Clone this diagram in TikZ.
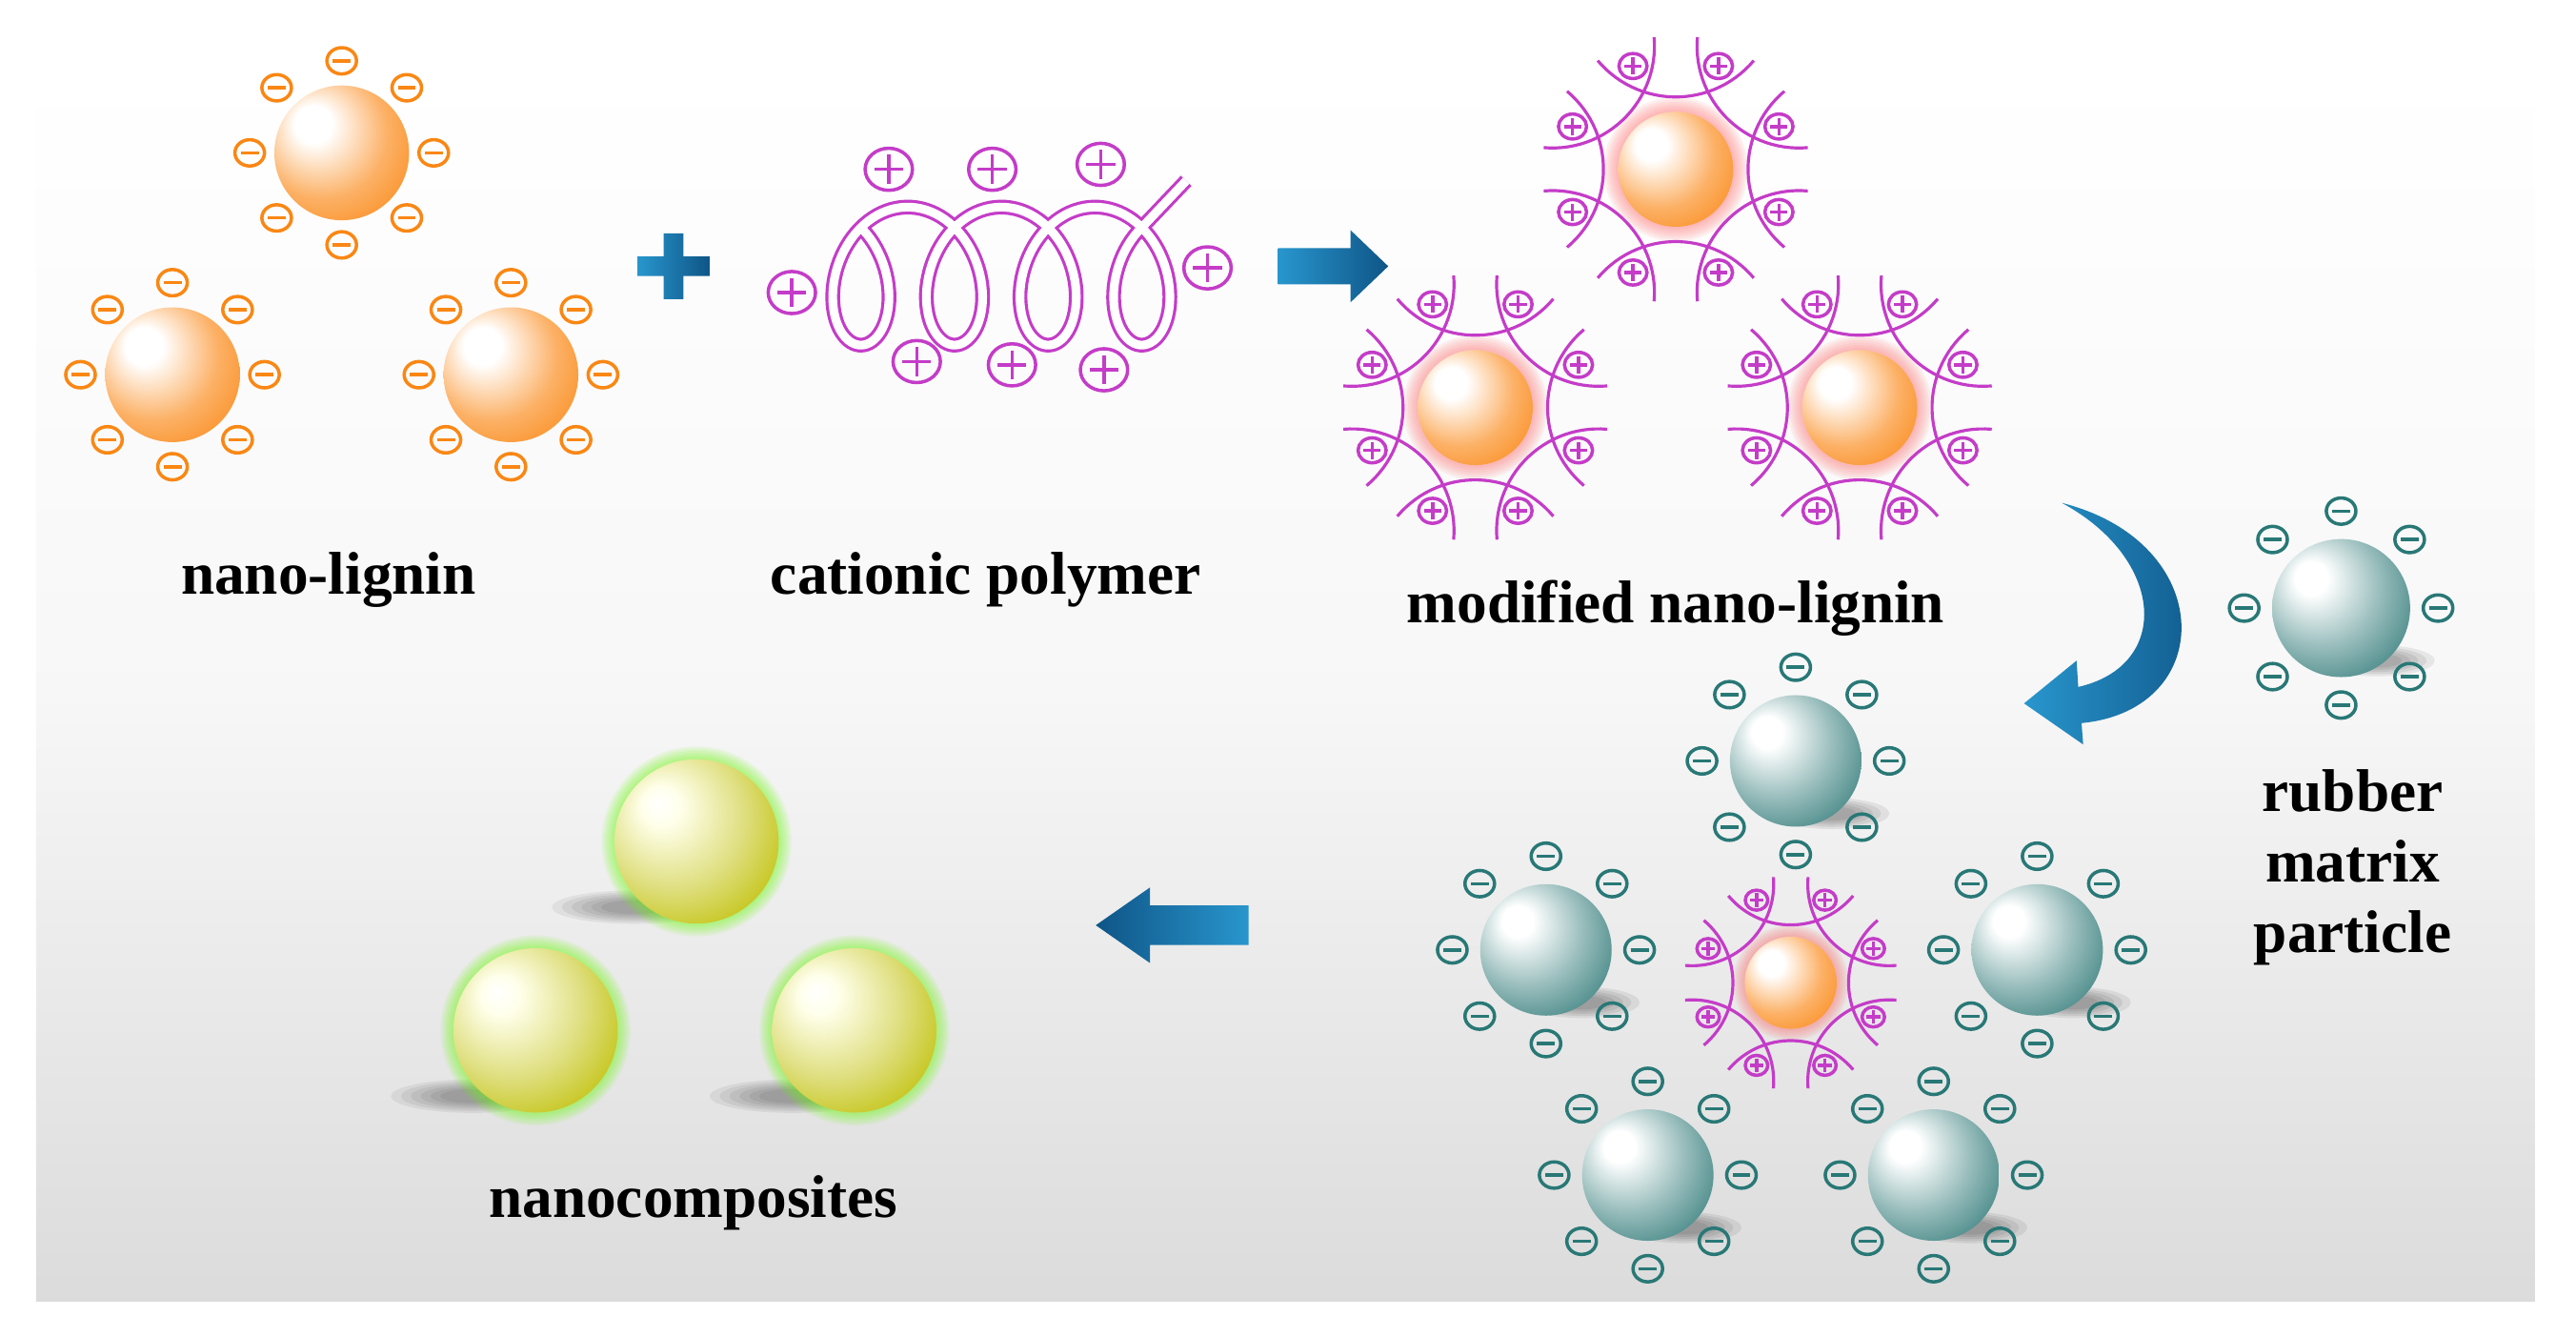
\documentclass[tikz,border=0pt]{standalone}
\usepackage{fontspec}
\setmainfont{Liberation Serif}
\begin{document}
\definecolor{oranA}{RGB}{250,135,20}
\definecolor{magA}{RGB}{196,60,200}
\definecolor{tealA}{RGB}{45,120,118}
\definecolor{tealM}{RGB}{40,120,118}
\definecolor{yelA}{RGB}{190,190,0}
\definecolor{blueA}{RGB}{40,150,205}
\definecolor{blueB}{RGB}{15,85,135}
\pgfdeclareradialshading{orsh}{\pgfpoint{-12bp}{12bp}}{color(0bp)=(white);color(7bp)=(white);color(24bp)=(oranA!65);color(40bp)=(oranA);color(60bp)=(oranA)}
\pgfdeclareradialshading{tesh}{\pgfpoint{-12bp}{12bp}}{color(0bp)=(white);color(6bp)=(white);color(22bp)=(tealA!50);color(36bp)=(tealA!90);color(60bp)=(tealA!80!black)}
\pgfdeclareradialshading{yesh}{\pgfpoint{-12bp}{12bp}}{color(0bp)=(white);color(6bp)=(white!92!yellow);color(22bp)=(yelA!50);color(36bp)=(yelA!95);color(60bp)=(yelA!90!black)}
\newcommand\mysign[2]{% color, with plus?
  \draw[#1,line width=1pt] (0,0) ellipse (9 and 8);
  \draw[#1,line width=1pt] (-5.5,0) -- (5.5,0);
  \ifx#2p\draw[#1,line width=1pt] (0,-5.5) -- (0,5.5);\fi}
\newcommand\nlball[2]{\begin{scope}[shift={(#1,#2)}]
  \shade[shading=orsh] (0,0) circle (41);
  \foreach \a in {0,45,...,315}{\begin{scope}[shift={(\a:56)}]\mysign{oranA}{m}\end{scope}}
\end{scope}}
\newcommand\teball[3]{\begin{scope}[shift={(#1,#2)}]
  \foreach \k in {1,...,5}{\fill[black,opacity=0.07] (22,32) ellipse ({10+5*\k} and {3+1.3*\k});}
  \shade[shading=tesh] (0,0) circle (#3);
  \foreach \a in {0,45,...,315}{\begin{scope}[shift={(\a:#3+17)}]\mysign{tealM}{m}\end{scope}}
\end{scope}}
\newcommand\yeball[2]{\begin{scope}[shift={(#1,#2)}]
  \foreach \k in {1,...,6}{\fill[black,opacity=0.06] (-38,40) ellipse ({14+6*\k} and {3+1.2*\k});}
  \foreach \k in {1,...,6}{\fill[green!60!yellow,opacity=0.09] (0,0) circle ({50+1.3*\k});}
  \shade[shading=yesh] (0,0) circle (50);
\end{scope}}
\newcommand\modnl[3]{\begin{scope}[shift={(#1,#2)},scale=#3]
  \foreach \k in {1,...,6}{\fill[red!40!pink,opacity=0.1] (0,0) circle ({35+1.5*\k});}
  \shade[shading=orsh] (0,0) circle (35);
  \foreach \a in {0,45,...,315}{\draw[magA,line width=0.9pt,rotate=\a] plot[domain=-50:50,samples=30,variable=\b] ({62*sin(\b)},{-106+62*cos(\b)});}
  \foreach \a in {22.5,67.5,...,337.5}{\begin{scope}[shift={(\a:68)},scale=0.95]\mysign{magA}{p}\end{scope}}
\end{scope}}
\begin{tikzpicture}[x=0.017245cm,y=-0.017245cm,
  lab/.style={font=\fontsize{18}{21}\selectfont\bfseries,align=center}]
\useasboundingbox (0,0) rectangle (1568,813);
\fill[white] (0,0) rectangle (1568,813);
\shade[top color=white,bottom color=black!14,middle color=white!97!black] (22,40) rectangle (1543,792);
% nano-lignin
\nlball{208}{93}
\nlball{105}{228}
\nlball{311}{228}
% blue plus
\shade[left color=blueA,right color=blueB] (404,142) -- (416,142) -- (416,156) -- (432,156) -- (432,168) -- (416,168) -- (416,182) -- (404,182) -- (404,168) -- (388,168) -- (388,156) -- (404,156) -- cycle;
% polymer
\draw[magA,line width=0.9pt,double=white,double distance=2.6pt]
  plot[domain=-2.3:21.2,samples=300,variable=\t] ({524+9.07*\t-30*sin(\t r)},{168+42*cos(\t r)}) -- (722,110);
\foreach \px/\py in {541/103,604/103,670/100,482/178,735/163,558/220,616/222,672/225}{
  \begin{scope}[shift={(\px,\py)},scale=1.6]\mysign{magA}{p}\end{scope}}
% right arrow
\shade[left color=blueA,right color=blueB] (778,151) -- (822,151) -- (822,140) -- (845,162) -- (822,184) -- (822,173) -- (778,173) -- cycle;
% modified nano-lignin
\modnl{1020}{103}{1}
\modnl{898}{248}{1}
\modnl{1132}{248}{1}
% curved arrow
\shade[left color=blueA,right color=blueB] (1255,306) .. controls (1350,330) and (1350,432) .. (1267,440) -- (1268,453) -- (1232,428) -- (1264,402) -- (1265,418) .. controls (1322,405) and (1318,340) .. (1255,306) -- cycle;
% rubber particle
\teball{1425}{370}{42}
% cluster
\teball{1093}{463}{40}
\teball{941}{578}{40}
\teball{1240}{578}{40}
\teball{1003}{715}{40}
\teball{1177}{715}{40}
\modnl{1090}{598}{0.8}
% left arrow
\shade[left color=blueB,right color=blueA] (760,551) -- (700,551) -- (700,540) -- (667,563) -- (700,586) -- (700,575) -- (760,575) -- cycle;
% nanocomposites
\yeball{424}{512}
\yeball{326}{627}
\yeball{520}{627}
% labels
\node[lab] (l1) at (200,353) {nano-lignin};
\node[lab] (l2) at (600,353) {cationic polymer};
\node[lab] (l3) at (1020,370) {modified nano-lignin};
\node[lab] (l4) at (1432,528) {rubber\\[0pt]matrix\\[0pt]particle};
\node[lab] (l5) at (422,732) {nanocomposites};
\end{tikzpicture}
\end{document}
